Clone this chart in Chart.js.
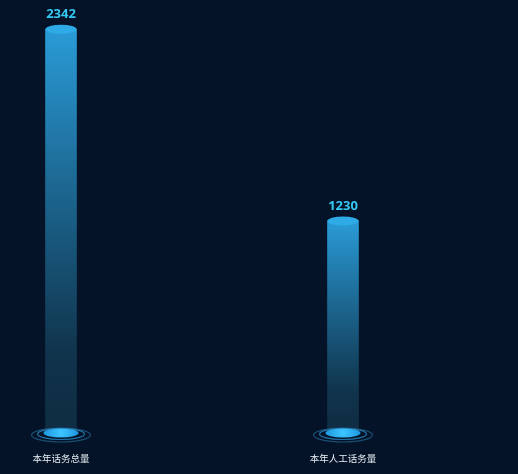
<!DOCTYPE html>
<html>
<head>
<meta charset="utf-8">
<script src="https://cdn.jsdelivr.net/npm/chart.js@4.4.0/dist/chart.umd.min.js"></script>
<style>
  html, body { margin: 0; padding: 0; background: #041327; }
  #wrap { width: 518px; height: 474px; }
</style>
</head>
<body>
<div id="wrap"><canvas id="callChart" width="518" height="474"></canvas></div>
<script>
    // Data
    const categories = ['本年话务总量', '本年人工话务量'];
    const callVolumes = [2342, 1230];
    const yMax = 2500;

    // Cylinder caps, base rings and value labels
    const cylinderPlugin = {
        id: 'cylinder',
        afterDatasetsDraw(chart) {
            const ctx = chart.ctx;
            const meta = chart.getDatasetMeta(0);
            meta.data.forEach((bar, i) => {
                const half = bar.width / 2;
                const base = bar.base;

                // base rings
                ctx.save();
                ctx.strokeStyle = 'rgba(40, 120, 170, 0.6)';
                ctx.lineWidth = 1.2;
                ctx.beginPath();
                ctx.ellipse(bar.x, base + 2, half + 14, 7, 0, 0, Math.PI * 2);
                ctx.stroke();
                ctx.strokeStyle = 'rgba(40, 140, 200, 0.8)';
                ctx.beginPath();
                ctx.ellipse(bar.x, base + 1, half + 8, 5.5, 0, 0, Math.PI * 2);
                ctx.stroke();

                // base disc
                const g = ctx.createRadialGradient(bar.x, base, 1, bar.x, base, half + 4);
                g.addColorStop(0, '#3cc4ff');
                g.addColorStop(1, '#1a90da');
                ctx.fillStyle = g;
                ctx.beginPath();
                ctx.ellipse(bar.x, base, half + 2, 4.5, 0, 0, Math.PI * 2);
                ctx.fill();

                // top cap
                ctx.fillStyle = '#2eaae6';
                ctx.beginPath();
                ctx.ellipse(bar.x, bar.y, half, 4.5, 0, 0, Math.PI * 2);
                ctx.fill();

                // value label
                ctx.fillStyle = '#35c8f2';
                ctx.font = 'bold 13px "Open Sans", "Noto Sans", sans-serif';
                ctx.textAlign = 'center';
                ctx.textBaseline = 'middle';
                ctx.fillText(callVolumes[i], bar.x, bar.y - 15);
                ctx.restore();
            });
        }
    };

    const callChart = new Chart(document.getElementById('callChart'), {
        type: 'bar',
        data: {
            labels: categories,
            datasets: [{
                data: callVolumes,
                barThickness: 31,
                clip: false,
                borderWidth: 0,
                backgroundColor: (c) => {
                    const area = c.chart.chartArea;
                    const yScale = c.chart.scales.y;
                    if (!area || !yScale || c.raw === undefined) return '#1e6f9a';
                    // gradient per bar: from its own top down to the base
                    const top = yScale.getPixelForValue(c.raw);
                    const grad = c.chart.ctx.createLinearGradient(0, top, 0, area.bottom);
                    grad.addColorStop(0, '#2a9bd6');
                    grad.addColorStop(0.4, '#1c6690');
                    grad.addColorStop(0.8, '#10344c');
                    grad.addColorStop(1, '#0f2c42');
                    return grad;
                }
            }]
        },
        options: {
            responsive: false,
            animation: false,
            devicePixelRatio: 1,
            layout: { padding: { top: 2, left: 61, right: 175, bottom: 0 } },
            plugins: {
                legend: { display: false },
                tooltip: { enabled: false }
            },
            scales: {
                x: {
                    offset: false,
                    grid: { display: false, drawTicks: false },
                    border: { display: false },
                    afterFit: (scale) => { scale.height = 41; },
                    ticks: {
                        padding: 20,
                        color: '#e6ecf2',
                        font: { size: 9.5, family: '"Noto Sans CJK SC", sans-serif' }
                    }
                },
                y: {
                    display: false,
                    min: 0,
                    max: yMax
                }
            }
        },
        plugins: [cylinderPlugin]
    });
</script>
</body>
</html>
